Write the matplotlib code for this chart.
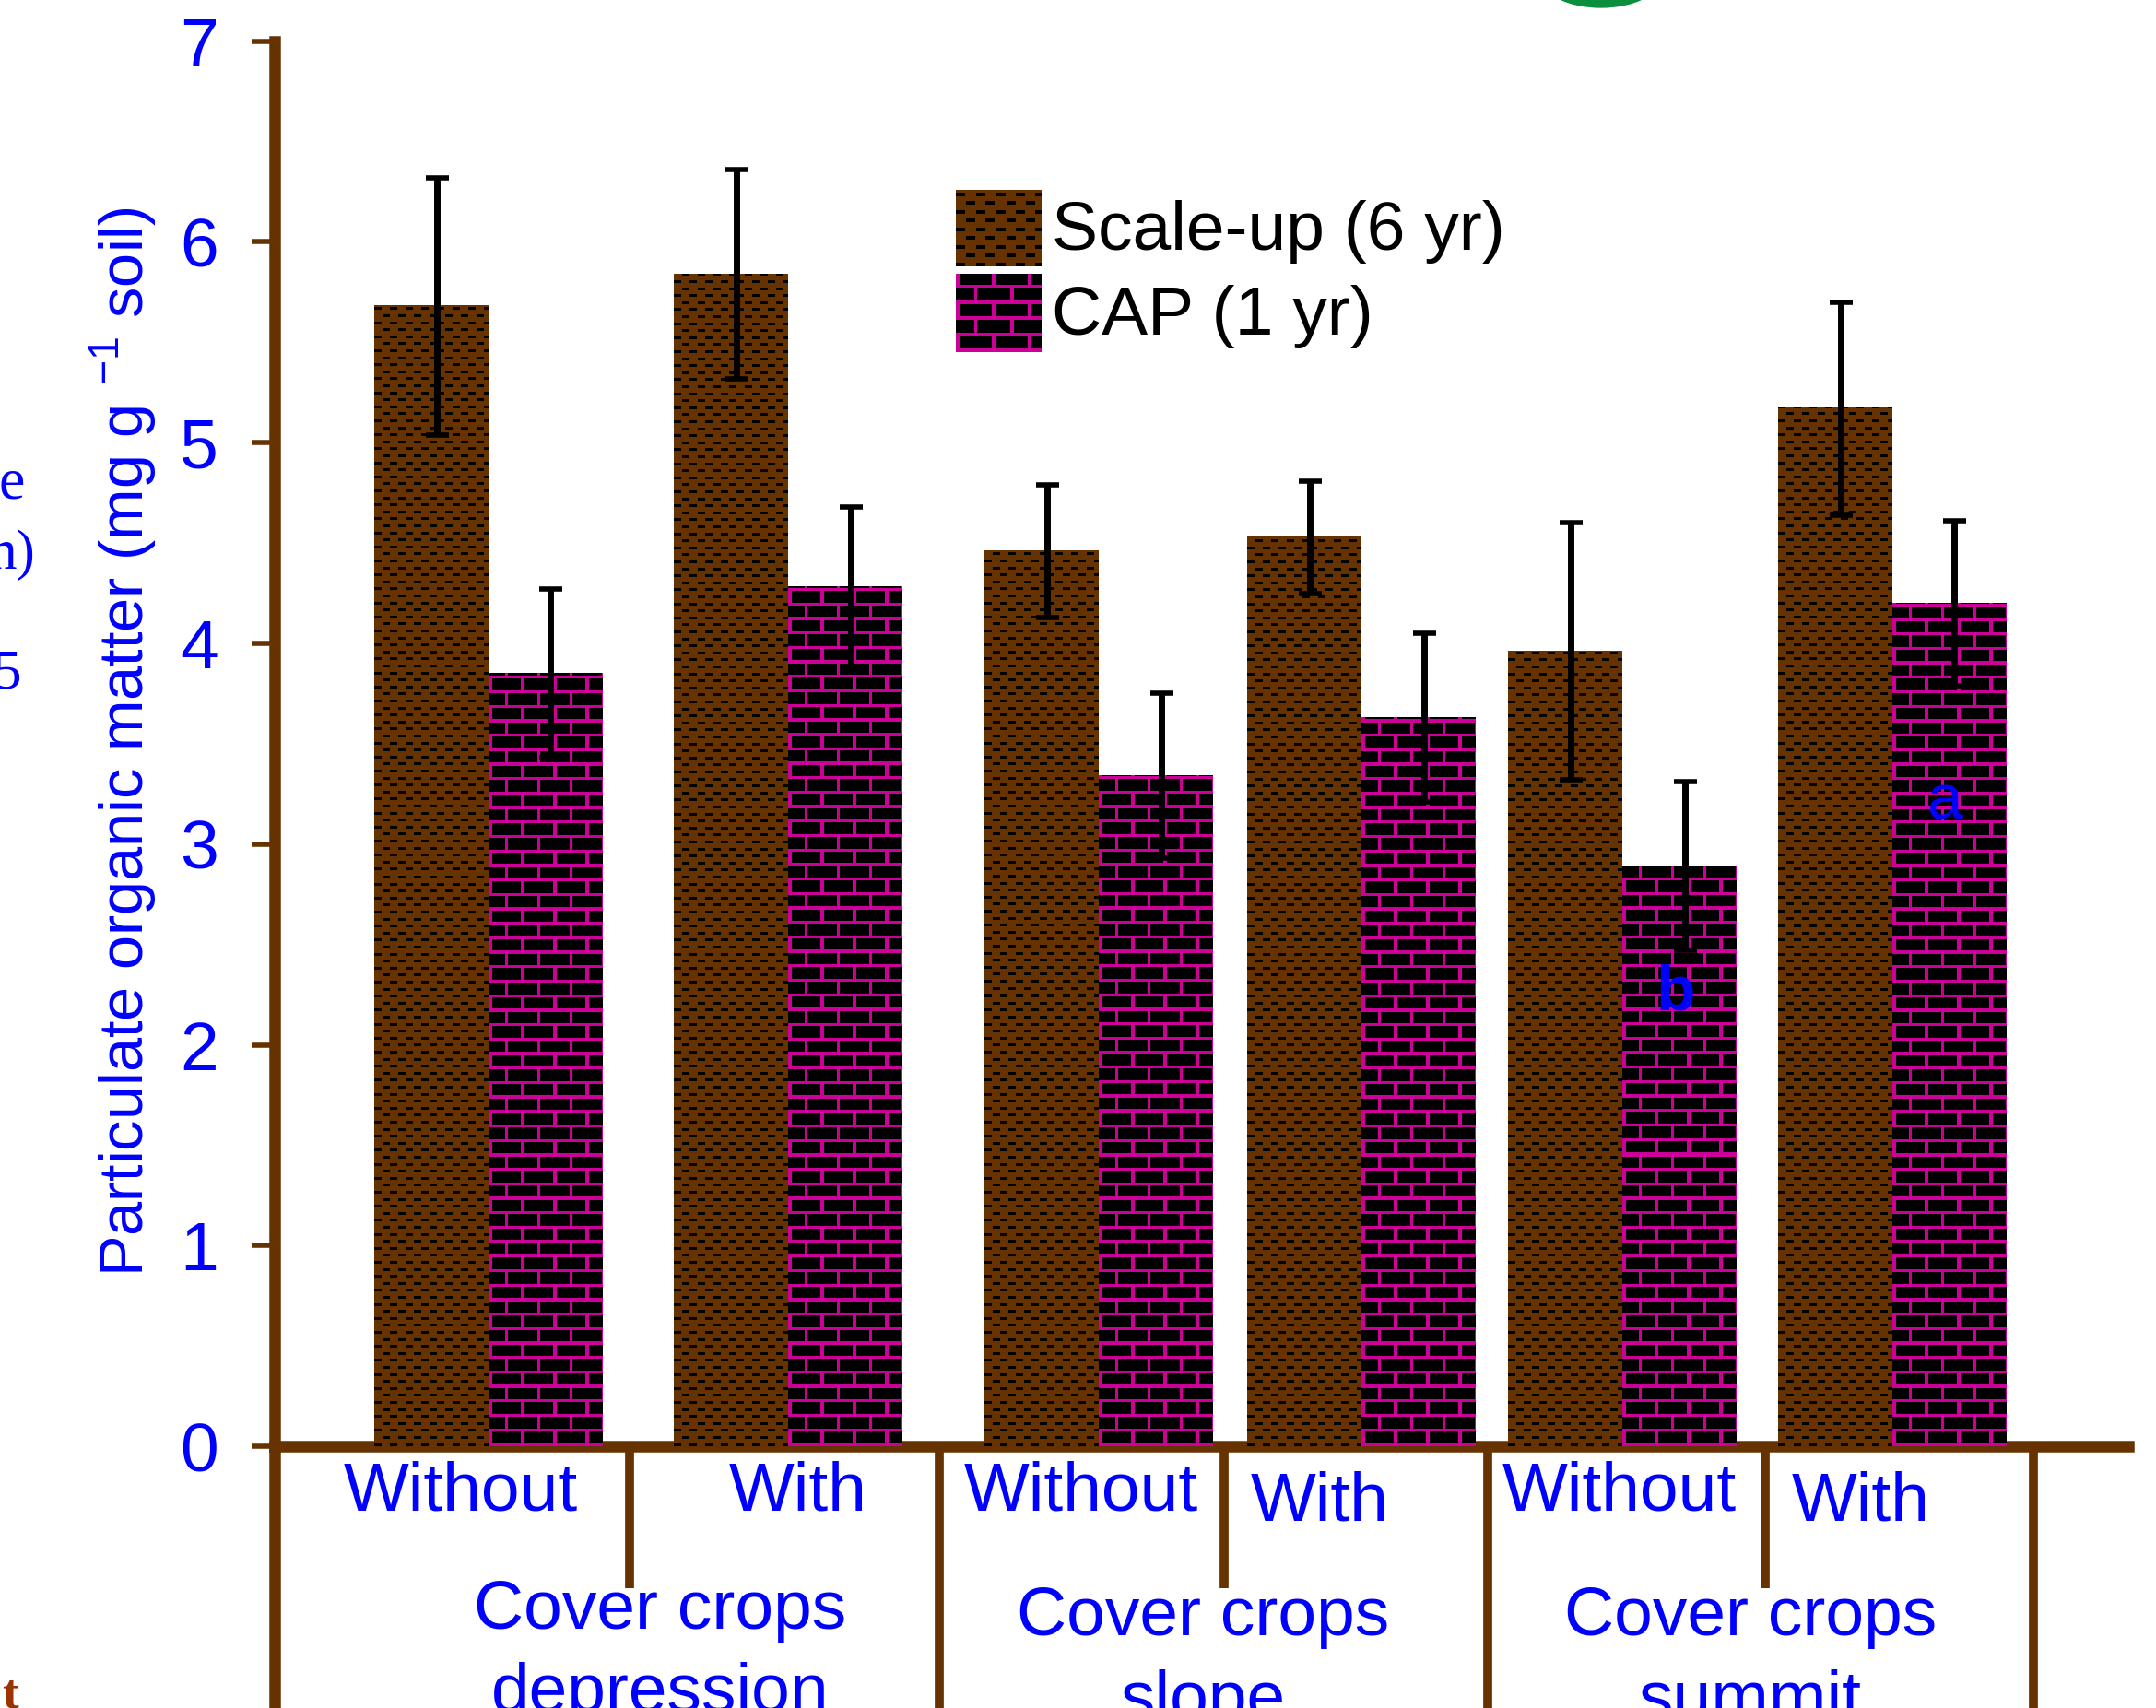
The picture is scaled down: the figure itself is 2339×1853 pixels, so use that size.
import numpy as np
import matplotlib
matplotlib.use('Agg')
import matplotlib.pyplot as plt
from matplotlib.colors import to_rgb
from matplotlib.patches import Ellipse
import matplotlib.transforms as mtransforms

plt.rcParams['font.family'] = ['Liberation Sans', 'DejaVu Sans']
plt.rcParams['mathtext.fontset'] = 'custom'
plt.rcParams['mathtext.rm'] = 'Liberation Sans'

# ---- DATOS ----------------------------------------------------------
cover_labels = ['Without', 'With', 'Without', 'With', 'Without', 'With']
group_labels = ['Cover crops\ndepression', 'Cover crops\nslope', 'Cover crops\nsummit']
series_names = ['Scale-up (6 yr)', 'CAP (1 yr)']
scale_up = [5.68, 5.84, 4.46, 4.53, 3.96, 5.17]
scale_up_err = [0.64, 0.52, 0.33, 0.28, 0.64, 0.53]
cap = [3.85, 4.28, 3.34, 3.63, 2.89, 4.20]
cap_err = [0.42, 0.40, 0.41, 0.42, 0.42, 0.41]
letters = ['', '', '', '', 'b', 'a']

# ---- ESTILO / LAYOUT -----------------------------------------------
BROWN = '#663300'
MAGENTA = '#CC0099'
BLUE = '#0000FF'
FS = 54

pair_x = [355, 573, 799, 990, 1180, 1376]      # frontera entre las dos barras
bar_w = 83
letter_y = [0, 0, 0, 0, 2.26, 3.21]
label_top = [-0.010, -0.010, -0.010, -0.017, -0.010, -0.017]
group_x = [480, 875, 1273]
group_top = [-0.094, -0.099, -0.099]
long_sep = [683, 1082, 1479]
short_sep = [458, 890, 1284]


def texture(h, w, kind, s=1.0):
    yy, xx = np.mgrid[0:h, 0:w].astype(float)
    img = np.zeros((h, w, 3))
    if kind == 'brown':
        py, px = 7.6 * s, 17.0 * s
        row = np.floor(yy / py)
        shift = (row % 2) * px / 2
        dash = ((yy % py) < 3 * s) & (((xx + shift) % px) < 8 * s)
        img[:] = to_rgb(BROWN)
        img[dash] = 0
    else:
        py, px, t = 15.7 * s, 35.0 * s, 3.3 * s
        row = np.floor(yy / py)
        shift = (row % 2) * px / 2
        mortar = ((yy % py) < t) | (((xx + shift) % px) < t)
        img[mortar] = to_rgb(MAGENTA)
    return img


def textured_box(ax, x0, x1, y0, y1, kind, s=1.0):
    p0 = ax.transData.transform((x0, y0))
    p1 = ax.transData.transform((x1, y1))
    w = max(int(round(abs(p1[0] - p0[0]))), 1)
    h = max(int(round(abs(p1[1] - p0[1]))), 1)
    ax.imshow(texture(h, w, kind, s), extent=(x0, x1, y0, y1), origin='lower',
              aspect='auto', interpolation='nearest', zorder=2, clip_on=False)


fig = plt.figure(figsize=(23.39, 18.53), dpi=100)
ax = fig.add_axes([0.12753, 0.15312, 0.8597, 0.8228])
ax.set_xlim(200, 1548)
ax.set_ylim(0, 7)
ax.set_autoscale_on(False)

x = np.array(pair_x, dtype=float)
b1 = ax.bar(x - bar_w / 2, scale_up, width=bar_w, color=BROWN, zorder=1)
b2 = ax.bar(x + bar_w / 2, cap, width=bar_w, color=MAGENTA, zorder=1)

for r in b1:
    textured_box(ax, r.get_x(), r.get_x() + r.get_width(), 0, r.get_height(), 'brown')
for r in b2:
    textured_box(ax, r.get_x(), r.get_x() + r.get_width(), 0, r.get_height(), 'magenta')

ax.errorbar(x - bar_w / 2 + 4, scale_up, yerr=scale_up_err, fmt='none', ecolor='black',
            elinewidth=5, capsize=9, capthick=4, zorder=3)
ax.errorbar(x + bar_w / 2 + 4, cap, yerr=cap_err, fmt='none', ecolor='black',
            elinewidth=5, capsize=9, capthick=4, zorder=3)

for i, l in enumerate(letters):
    if l:
        ax.text(x[i] + bar_w / 2 - 3, letter_y[i], l, color=BLUE, fontsize=50,
                fontweight='bold' if l == 'b' else 'normal',
                ha='center', va='center', zorder=4)

# ejes
for side in ['top', 'right']:
    ax.spines[side].set_visible(False)
ax.spines['left'].set_color(BROWN)
ax.spines['left'].set_linewidth(9)
ax.spines['bottom'].set_color(BROWN)
ax.spines['bottom'].set_linewidth(9)
ax.spines['left'].set_zorder(0.5)
ax.spines['bottom'].set_zorder(0.5)
ax.set_xticks([])
ax.set_yticks(range(8))
ax.tick_params(axis='y', direction='out', length=18, width=4, color=BROWN,
               labelsize=FS, labelcolor=BLUE, pad=26)

# separadores bajo el eje
trans = mtransforms.blended_transform_factory(ax.transData, ax.transAxes)
ax.plot([200, 200], [0, -0.25], color=BROWN, lw=9, transform=trans, clip_on=False,
        solid_capstyle='butt')
for sx in long_sep:
    ax.plot([sx, sx], [0, -0.25], color=BROWN, lw=7, transform=trans, clip_on=False,
            solid_capstyle='butt')
for sx in short_sep:
    ax.plot([sx, sx], [0, -0.101], color=BROWN, lw=7, transform=trans, clip_on=False,
            solid_capstyle='butt')

label_x = [335, 580, 786, 960, 1178, 1353]
for i, lab in enumerate(cover_labels):
    ax.text(label_x[i], label_top[i], lab, transform=trans, color=BLUE, fontsize=FS,
            ha='center', va='top')
for i, lab in enumerate(group_labels):
    ax.text(group_x[i], group_top[i], lab, transform=trans, color=BLUE, fontsize=FS,
            ha='center', va='top', linespacing=1.4)

# leyenda manual
textured_box(ax, 695, 757, 5.88, 6.26, 'brown', 1.25)
textured_box(ax, 695, 757, 5.45, 5.84, 'magenta', 1.1)
ax.text(765, 6.05, series_names[0], fontsize=FS, color='black', va='center')
ax.text(765, 5.63, series_names[1], fontsize=FS, color='black', va='center')

fig.text(0.0574, 0.566, 'Particulate organic matter (mg g $^{\\mathregular{-1}}$ soil)',
         rotation=90, color=BLUE, fontsize=48, ha='center', va='center')

# restos de la diapositiva
serif = ['Liberation Serif', 'DejaVu Serif']
fig.text(0.0055, 0.7165, 'e', family=serif, fontsize=46, color=BLUE, ha='center', va='center')
fig.text(0.0165, 0.675, 'n)', family=serif, fontsize=44, color=BLUE, ha='right', va='center')
fig.text(0.0097, 0.605, '5', family=serif, fontsize=44, color=BLUE, ha='right', va='center')
fig.text(0.0045, 0.0205, 't', family=serif, fontsize=38, color='#993300', fontweight='bold',
         ha='center', va='top')
fig.patches.append(Ellipse((0.7426, 1.0135), 0.0556, 0.0356, transform=fig.transFigure,
                           color='#0A8F3C', zorder=0))

fig.savefig('out.png', dpi=100, facecolor='white')
